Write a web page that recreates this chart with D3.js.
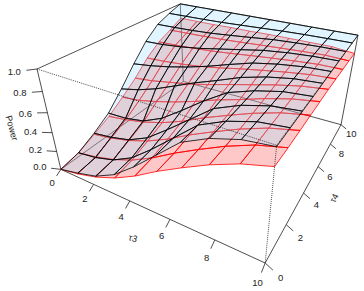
<!DOCTYPE html>
<html>
<head>
<meta charset="utf-8">
<script src="https://cdnjs.cloudflare.com/ajax/libs/d3/7.8.5/d3.min.js"></script>
<style>
  html, body { margin: 0; padding: 0; background: #fff; }
  text { font-family: "Liberation Sans", Arial, sans-serif; fill: #222; }
</style>
</head>
<body>
<div id="chart"></div>
<script>
// grid positions of both surfaces
var tau3 = [0, 1.11, 2.22, 3.33, 4.44, 5.56, 6.67, 7.78, 8.89, 10];
var tau4 = [0, 1.11, 2.22, 3.33, 4.44, 5.56, 6.67, 7.78, 8.89, 10];

// tick labels
var tauTicks = [0, 2, 4, 6, 8, 10];
var powerTicks = [0, 0.2, 0.4, 0.6, 0.8, 1];

// power, one row per tau4, one column per tau3
var powerUpper = [
  [0.00, 0.05, 0.11, 0.22, 0.39, 0.585, 0.78, 0.89, 0.96, 0.99],
  [0.04, 0.07, 0.13, 0.24, 0.41, 0.60, 0.79, 0.894, 0.962, 0.99],
  [0.13, 0.16, 0.21, 0.31, 0.47, 0.64, 0.81, 0.904, 0.965, 0.991],
  [0.24, 0.25, 0.29, 0.39, 0.54, 0.70, 0.84, 0.916, 0.97, 0.992],
  [0.41, 0.46, 0.53, 0.62, 0.71, 0.79, 0.875, 0.935, 0.976, 0.994],
  [0.60, 0.63, 0.67, 0.72, 0.78, 0.85, 0.915, 0.956, 0.984, 0.996],
  [0.77, 0.78, 0.80, 0.83, 0.87, 0.91, 0.95, 0.975, 0.991, 0.998],
  [0.89, 0.895, 0.902, 0.914, 0.933, 0.954, 0.976, 0.988, 0.996, 0.999],
  [0.95, 0.953, 0.956, 0.961, 0.97, 0.979, 0.989, 0.995, 0.998, 1],
  [1, 1, 1, 1, 1, 1, 1, 1, 1, 1]
];
var powerLower = [
  [0.00, 0.04, 0.10, 0.185, 0.30, 0.44, 0.564, 0.68, 0.777, 0.846],
  [0.04, 0.079, 0.135, 0.216, 0.326, 0.459, 0.577, 0.688, 0.78, 0.84],
  [0.117, 0.151, 0.202, 0.276, 0.375, 0.496, 0.602, 0.702, 0.785, 0.84],
  [0.202, 0.233, 0.278, 0.343, 0.43, 0.537, 0.63, 0.719, 0.792, 0.84],
  [0.313, 0.339, 0.39, 0.45, 0.52, 0.60, 0.667, 0.74, 0.80, 0.84],
  [0.435, 0.46, 0.50, 0.54, 0.59, 0.65, 0.706, 0.763, 0.81, 0.84],
  [0.58, 0.592, 0.611, 0.637, 0.673, 0.716, 0.754, 0.79, 0.82, 0.835],
  [0.689, 0.696, 0.706, 0.722, 0.743, 0.768, 0.79, 0.811, 0.828, 0.83],
  [0.756, 0.76, 0.766, 0.774, 0.786, 0.80, 0.812, 0.824, 0.833, 0.825],
  [0.83, 0.83, 0.83, 0.835, 0.835, 0.84, 0.84, 0.84, 0.84, 0.815]
];

var svgWidth = 364;
var svgHeight = 291;

var svg = d3.select("#chart")
  .append("svg")
  .attr("width", svgWidth)
  .attr("height", svgHeight)
  .style("display", "block");

// viewing angles of the perspective box
var theta = 30 * Math.PI / 180;
var phi = 30 * Math.PI / 180;
var eyeDist = Math.sqrt(3);
var d = 1;

var uScale = d3.scaleLinear().domain([0, 10]).range([-1, 1]);
var vScale = d3.scaleLinear().domain([0, 10]).range([-1, 1]);
var zScale = d3.scaleLinear().domain([0, 1]).range([-0.5, 0.5]);

// box coords to screen, before the pixel scales
function view(u, v, z) {
  var xv = u * Math.cos(theta) + v * Math.sin(theta);
  var dv = -u * Math.sin(theta) + v * Math.cos(theta);
  var yv = z * Math.cos(phi) + dv * Math.sin(phi);
  var depth = dv * Math.cos(phi) - z * Math.sin(phi);
  var den = 1 + (eyeDist + d + depth) / d;
  return { x: xv / den, y: yv / den, depth: depth };
}

var xPixel = d3.scaleLinear().domain([-0.4316, 0.3596]).range([37, 358]);
var yPixel = d3.scaleLinear().domain([-0.3987, 0.239]).range([263, 4]);

function project(t3, t4, p, du, dv, dz) {
  var q = view(uScale(t3) + (du || 0), vScale(t4) + (dv || 0), zScale(p) + (dz || 0));
  return [xPixel(q.x), yPixel(q.y), q.depth];
}

var line = d3.line();

function drawEdge(a, b, dash, width) {
  svg.append("path")
    .attr("d", line([project(a[0], a[1], a[2]).slice(0, 2), project(b[0], b[1], b[2]).slice(0, 2)]))
    .attr("fill", "none")
    .attr("stroke", "#222")
    .attr("stroke-width", width || 0.8)
    .attr("stroke-dasharray", dash || null);
}

// back of the box
var solidEdges = [
  [[0, 0, 1], [0, 10, 1]],
  [[0, 10, 1], [10, 10, 1]],
  [[10, 10, 1], [10, 10, 0]],
  [[10, 10, 0], [0, 10, 0]],
  [[0, 10, 0], [0, 0, 0]],
  [[0, 10, 0], [0, 10, 1]],
  [[0, 0, 0], [0, 0, 1]],
  [[0, 0, 0], [10, 0, 0]],
  [[10, 0, 0], [10, 10, 0]]
];
solidEdges.forEach(function(e) { drawEdge(e[0], e[1]); });

function drawSurface(values, fill, stroke) {
  var cells = [];
  for (var j = 0; j < tau4.length - 1; j++) {
    for (var i = 0; i < tau3.length - 1; i++) {
      var corners = [
        project(tau3[i], tau4[j], values[j][i]),
        project(tau3[i + 1], tau4[j], values[j][i + 1]),
        project(tau3[i + 1], tau4[j + 1], values[j + 1][i + 1]),
        project(tau3[i], tau4[j + 1], values[j + 1][i])
      ];
      cells.push({ corners: corners, depth: d3.mean(corners, function(c) { return c[2]; }) });
    }
  }
  // far cells first
  cells.sort(function(a, b) { return b.depth - a.depth; });

  svg.append("g")
    .selectAll("path")
    .data(cells)
    .enter()
    .append("path")
    .attr("d", function(c) { return line(c.corners.map(function(p) { return p.slice(0, 2); })) + "Z"; })
    .attr("fill", fill)
    .attr("stroke", stroke)
    .attr("stroke-width", 0.8)
    .attr("stroke-linejoin", "round");
}

drawSurface(powerLower, "rgba(255,0,0,0.215)", "#ff0000");
drawSurface(powerUpper, "rgba(161,225,255,0.33)", "#000000");

// front of the box is dotted
var dottedEdges = [
  [[0, 0, 1], [10, 0, 1]],
  [[10, 0, 1], [10, 0, 0]],
  [[10, 0, 1], [10, 10, 1]]
];
dottedEdges.forEach(function(e) { drawEdge(e[0], e[1], "1,1"); });

function tick(base, off, label, labelMul) {
  var a = project(base[0], base[1], base[2]);
  var b = project(base[0], base[1], base[2], off[0], off[1], off[2]);
  var c = project(base[0], base[1], base[2], off[0] * labelMul, off[1] * labelMul, off[2] * labelMul);
  svg.append("path")
    .attr("d", line([a.slice(0, 2), b.slice(0, 2)]))
    .attr("stroke", "#222")
    .attr("stroke-width", 0.8)
    .attr("fill", "none");
  svg.append("text")
    .attr("x", c[0])
    .attr("y", c[1])
    .attr("dy", "0.36em")
    .attr("text-anchor", "middle")
    .style("font-size", "9.5px")
    .text(label);
}

tauTicks.forEach(function(t) {
  tick([t, 0, 0], [0, -0.058, -0.034], t, 2);
  tick([10, t, 0], [0.06, 0, -0.035], t, 2);
});
powerTicks.forEach(function(p) {
  tick([0, 0, p], [-0.14, 0, -0.045], p.toFixed(1), 2.2);
});

// axis titles
function axisTitle(txt, x, y, angle) {
  svg.append("text")
    .attr("transform", "translate(" + x + "," + y + ") rotate(" + angle + ")")
    .attr("text-anchor", "middle")
    .attr("dy", "0.36em")
    .style("font-size", "9px")
    .text(txt);
}
axisTitle("Power", 12, 128, 75);
axisTitle("\u03c43", 133, 238, 15);
axisTitle("\u03c44", 334, 198, -62);
</script>
</body>
</html>
